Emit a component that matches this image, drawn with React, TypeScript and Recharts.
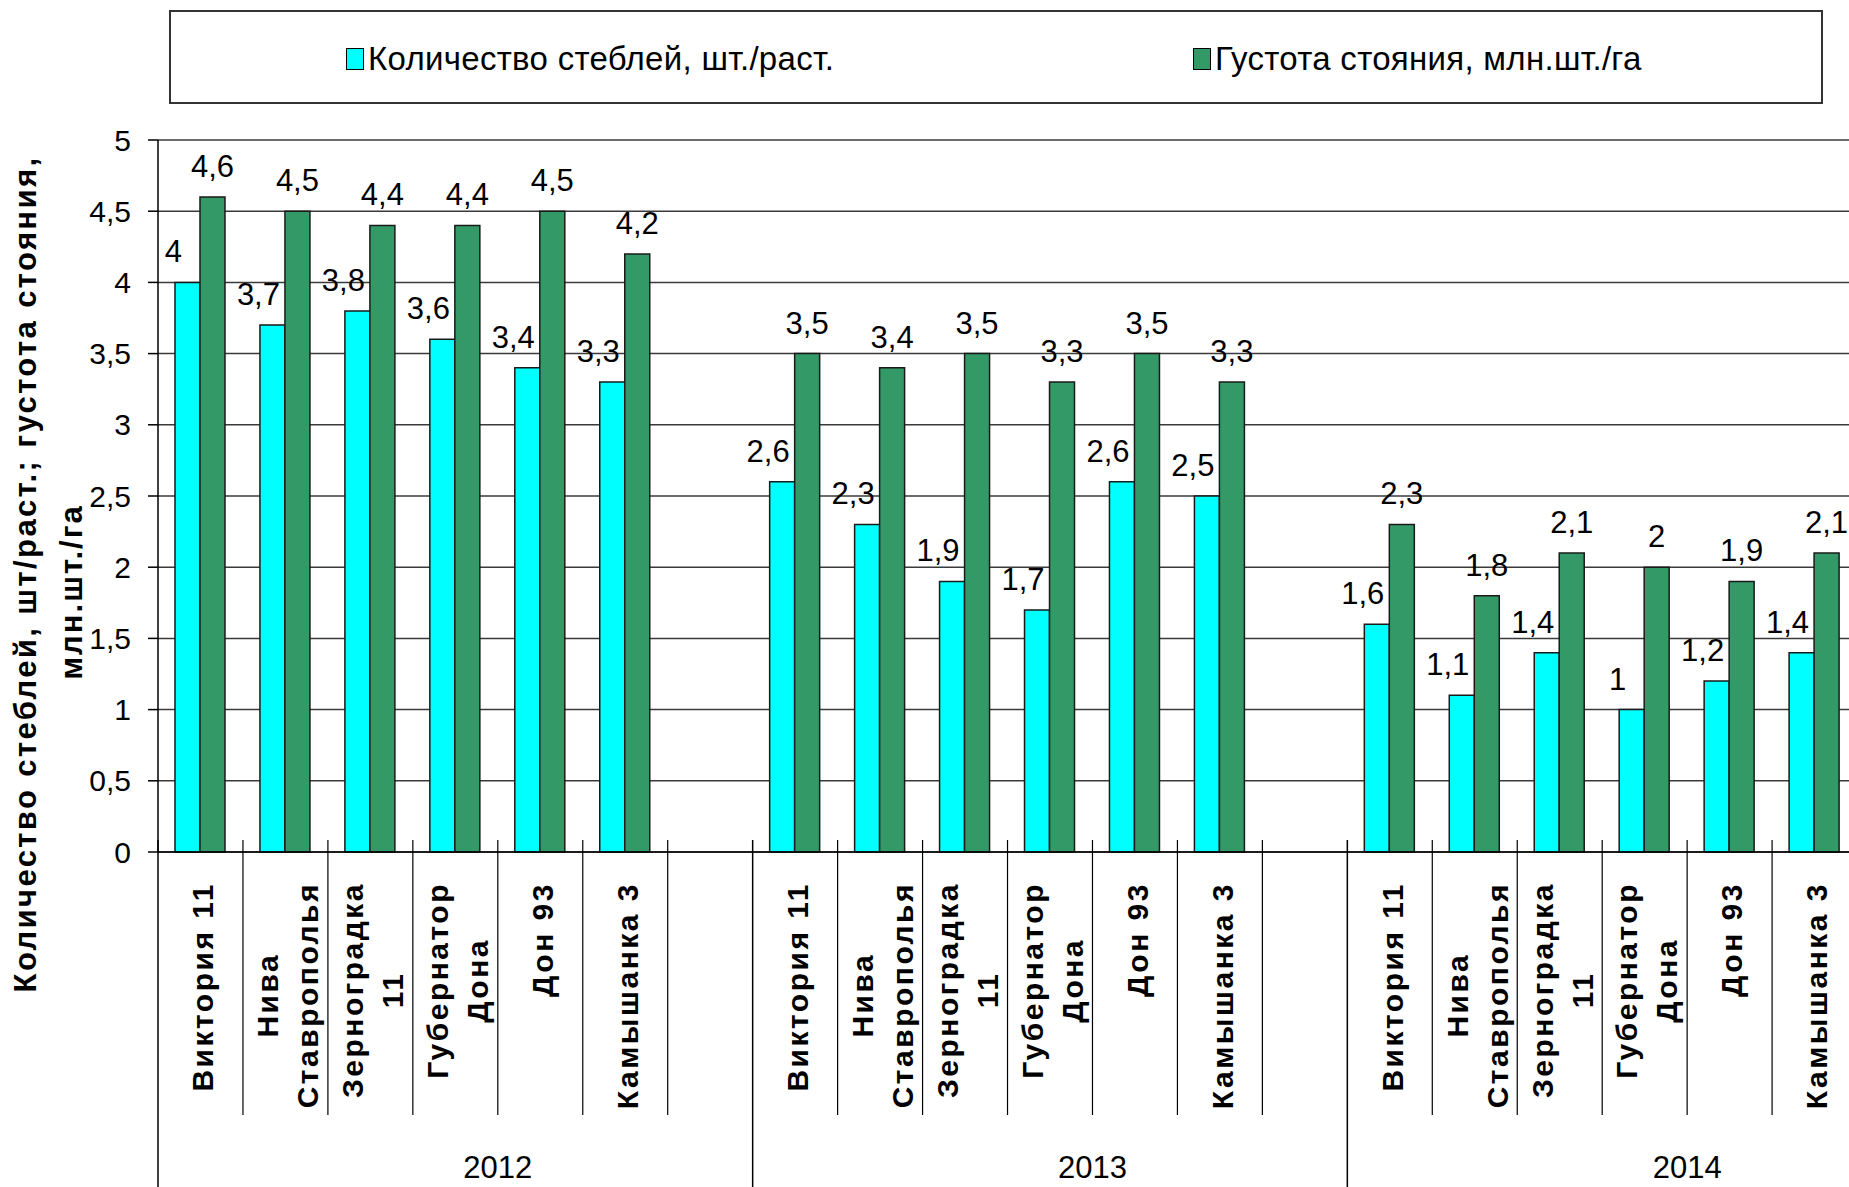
import { BarChart, Bar, XAxis, YAxis, CartesianGrid, Legend, LabelList, Label } from "recharts";

// ── Data ──────────────────────────────────────────────────────

const YEARS = ["2012", "2013", "2014"];

const VARIETIES = [
  ["Виктория 11"],
  ["Нива", "Ставрополья"],
  ["Зерноградка", "11"],
  ["Губернатор", "Дона"],
  ["Дон 93"],
  ["Камышанка 3"],
];

const STEMS_2012 = [4, 3.7, 3.8, 3.6, 3.4, 3.3];
const STEMS_2013 = [2.6, 2.3, 1.9, 1.7, 2.6, 2.5];
const STEMS_2014 = [1.6, 1.1, 1.4, 1, 1.2, 1.4];

const DENSITY_2012 = [4.6, 4.5, 4.4, 4.4, 4.5, 4.2];
const DENSITY_2013 = [3.5, 3.4, 3.5, 3.3, 3.5, 3.3];
const DENSITY_2014 = [2.3, 1.8, 2.1, 2, 1.9, 2.1];

const Y_TICKS = [0, 0.5, 1, 1.5, 2, 2.5, 3, 3.5, 4, 4.5, 5];

const STEMS_NAME = "Количество стеблей, шт./раст.";
const DENSITY_NAME = "Густота стояния, млн.шт./га";
const Y_TITLE = ["Количество стеблей, шт/раст.; густота стояния,", "млн.шт./га"];

const STEMS = [STEMS_2012, STEMS_2013, STEMS_2014];
const DENSITY = [DENSITY_2012, DENSITY_2013, DENSITY_2014];

// each year: 6 varieties + one empty slot
const data = YEARS.flatMap((year, g) => [
  ...VARIETIES.map((lines, i) => ({
    key: `${year}-${i}`,
    year,
    lines,
    stems: STEMS[g][i],
    density: DENSITY[g][i],
  })),
  { key: `${year}-gap`, year, lines: [] as string[], stems: null, density: null },
]);

// ── Layout ────────────────────────────────────────────────────

const CYAN = "#00FFFF";
const GREEN = "#339966";
const FONT = '"Liberation Sans", Arial, sans-serif';

const CHART_W = 1942;
const CHART_H = 1187;
const Y_W = 158;
const X_H = 335;
const LEGEND_H = 140;
const SLOT = (CHART_W - Y_W) / data.length;

const LABEL_FS = 30;
const LABEL_LS = 2.5;
const LINE_GAP = 40;

const fmt = (v: number) => String(v).replace(".", ",");

let ctx: CanvasRenderingContext2D | null = null;
function textWidth(text: string, font: string, ls: number) {
  if (!ctx) ctx = document.createElement("canvas").getContext("2d");
  if (!ctx) return text.length * 16;
  ctx.font = font;
  return ctx.measureText(text).width + ls * text.length;
}

// ── Pieces ────────────────────────────────────────────────────

function VarietyTick(props: any) {
  const { x, y, payload } = props;
  const index = data.findIndex((d) => d.key === payload.value);
  const row = data[index];
  if (!row) return null;
  const left = x - SLOT / 2;
  const groupStart = index % 7 === 0;
  const lines = row.lines;
  const maxLen = Math.max(0, ...lines.map((t) => textWidth(t, `bold ${LABEL_FS}px ${FONT}`, LABEL_LS)));
  const cy = y + 30 + maxLen / 2;

  return (
    <g>
      <line
        x1={left}
        x2={left}
        y1={y - 12}
        y2={groupStart ? CHART_H : y + 263}
        stroke="#000"
        strokeWidth={groupStart ? 1.5 : 1.2}
      />
      {lines.map((t, i) => {
        const cx = x + 2 + (i - (lines.length - 1) / 2) * LINE_GAP + LABEL_FS * 0.36;
        return (
          <text
            key={i}
            x={cx}
            y={cy}
            transform={`rotate(-90 ${cx} ${cy})`}
            textAnchor="middle"
            fontFamily={FONT}
            fontWeight="bold"
            fontSize={LABEL_FS}
            letterSpacing={LABEL_LS}
            fill="#000"
          >
            {t}
          </text>
        );
      })}
      {index % 7 === 3 && (
        <text x={x + SLOT / 2} y={y + 326} textAnchor="middle" fontFamily={FONT} fontSize={31} fill="#000">
          {row.year}
        </text>
      )}
    </g>
  );
}

const valueLabel = (dx: number) => (props: any) => {
  const { x, y, width, value } = props;
  if (value == null) return null;
  return (
    <text
      x={Number(x) + Number(width) / 2 + dx}
      y={Number(y) - 20}
      textAnchor="middle"
      fontFamily={FONT}
      fontSize={31}
      fill="#000"
    >
      {fmt(Number(value))}
    </text>
  );
};

function LegendBox() {
  const item = (color: string, name: string, left: number) => (
    <div style={{ position: "absolute", left, top: 32, display: "flex", alignItems: "center", height: 30 }}>
      <span style={{ width: 16, height: 20, background: color, border: "1px solid #000", marginRight: 4 }} />
      <span style={{ fontSize: 33, fontFamily: FONT, letterSpacing: 0.3, color: "#000", whiteSpace: "nowrap" }}>
        {name}
      </span>
    </div>
  );
  return (
    <div style={{ position: "relative", width: CHART_W, height: LEGEND_H }}>
      <div
        style={{
          position: "absolute",
          left: 169,
          top: 10,
          width: 1654,
          height: 94,
          border: "2px solid #333",
          boxSizing: "border-box",
        }}
      >
        {item(CYAN, STEMS_NAME, 175)}
        {item(GREEN, DENSITY_NAME, 1022)}
      </div>
    </div>
  );
}

function YTitle() {
  return (
    <g fontFamily={FONT} fontWeight="bold" fontSize={31} fill="#000">
      <text x={36} y={574} transform="rotate(-90 36 574)" textAnchor="middle" letterSpacing={2.4}>
        {Y_TITLE[0]}
      </text>
      <text x={82} y={592} transform="rotate(-90 82 592)" textAnchor="middle" letterSpacing={2}>
        {Y_TITLE[1]}
      </text>
    </g>
  );
}

export default function App() {
  return (
    <div
      style={{
        position: "fixed",
        left: 0,
        top: 0,
        width: 1849,
        height: 1187,
        overflow: "hidden",
        background: "#fff",
      }}
    >
      <BarChart
        width={CHART_W}
        height={CHART_H}
        data={data}
        margin={{ top: 0, right: 0, bottom: 0, left: 0 }}
        barCategoryGap="20%"
        barGap={0}
      >
        <Legend verticalAlign="top" align="left" content={() => <LegendBox />} wrapperStyle={{ top: 0, left: 0 }} />
        <CartesianGrid vertical={false} stroke="#3a3a3a" strokeWidth={1.5} />
        <XAxis
          dataKey="key"
          interval={0}
          height={X_H}
          tickLine={false}
          tickSize={0}
          tickMargin={0}
          axisLine={{ stroke: "#000", strokeWidth: 1.5 }}
          tick={<VarietyTick />}
        />
        <YAxis
          width={Y_W}
          domain={[0, 5]}
          ticks={Y_TICKS}
          interval={0}
          tickFormatter={fmt}
          tickSize={10}
          tickMargin={17}
          axisLine={{ stroke: "#000", strokeWidth: 1.5 }}
          tickLine={{ stroke: "#000", strokeWidth: 1.5 }}
          tick={{ fontSize: 30, fontFamily: FONT, fill: "#000" }}
        >
          <Label content={() => <YTitle />} />
        </YAxis>
        <Bar dataKey="stems" name={STEMS_NAME} fill={CYAN} stroke="#1a1a1a" strokeWidth={1.5} isAnimationActive={false}>
          <LabelList dataKey="stems" content={valueLabel(-14)} />
        </Bar>
        <Bar dataKey="density" name={DENSITY_NAME} fill={GREEN} stroke="#1a1a1a" strokeWidth={1.5} isAnimationActive={false}>
          <LabelList dataKey="density" content={valueLabel(0)} />
        </Bar>
      </BarChart>
    </div>
  );
}
